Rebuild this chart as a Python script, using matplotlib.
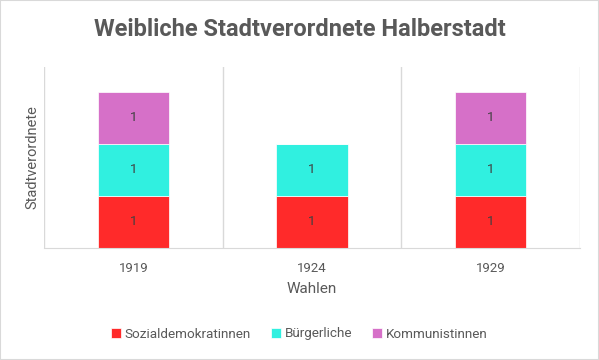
import numpy as np
import matplotlib.pyplot as plt

plt.rcParams['font.family'] = ['Roboto', 'DejaVu Sans']

years = ["1919", "1924", "1929"]
sozial = [1, 1, 1]
buerger = [1, 1, 1]
kommun = [1, 0, 1]
series = ["Sozialdemokratinnen", "Bürgerliche", "Kommunistinnen"]
colors = ["#FF2A2A", "#30F0E0", "#D670C8"]
grey = "#595959"


def main():
    fig = plt.figure(figsize=(5.99, 3.6), dpi=100)
    ax = fig.add_axes([44 / 599, 1 - 248 / 360, 536 / 599, 181 / 360])

    x = np.arange(len(years))
    bottom = np.zeros(len(years))
    for name, vals, col in zip(series, [sozial, buerger, kommun], colors):
        vals = np.array(vals, dtype=float)
        bars = ax.bar(x, vals, 0.4, bottom=bottom, color=col, label=name,
                      edgecolor="white", linewidth=0.5)
        for b, v in zip(bars, vals):
            if v > 0:
                ax.text(b.get_x() + b.get_width() / 2, b.get_y() + v / 2,
                        f"{v:g}", ha="center", va="center", fontsize=9.5,
                        color="#404040")
        bottom += vals

    ax.set_xlim(-0.5, 2.5)
    ax.set_ylim(0, 3.48)
    ax.set_yticks([])
    ax.set_xticks(x)
    ax.set_xticklabels(years, fontsize=9.5, color=grey)
    ax.tick_params(axis="x", length=0, pad=10)
    # category separators
    for sep in [-0.5, 0.5, 1.5, 2.5]:
        ax.axvline(sep, color="#D9D9D9", linewidth=1, zorder=0)
    for s in ["top", "right", "left"]:
        ax.spines[s].set_visible(False)
    ax.spines["bottom"].set_color("#D9D9D9")

    ax.set_xlabel("Wahlen", fontsize=11, color=grey, labelpad=5)
    ax.set_ylabel("Stadtverordnete", fontsize=10.5, color=grey, labelpad=3)

    fig.suptitle("Weibliche Stadtverordnete Halberstadt", fontsize=17,
                 fontweight="bold", color=grey, y=1 - 30 / 360, va="center")

    fig.legend(loc="center", bbox_to_anchor=(0.5, 1 - 334 / 360), ncol=3,
               frameon=False, fontsize=9.7, handlelength=0.7, handleheight=0.7,
               handletextpad=0.3, columnspacing=1.5, labelcolor=grey)

    fig.patches.append(plt.Rectangle((0, 0), 1, 1, transform=fig.transFigure,
                                     fill=False, edgecolor="#D9D9D9",
                                     linewidth=1.5))
    fig.savefig("out.png", dpi=100)


if __name__ == "__main__":
    main()
